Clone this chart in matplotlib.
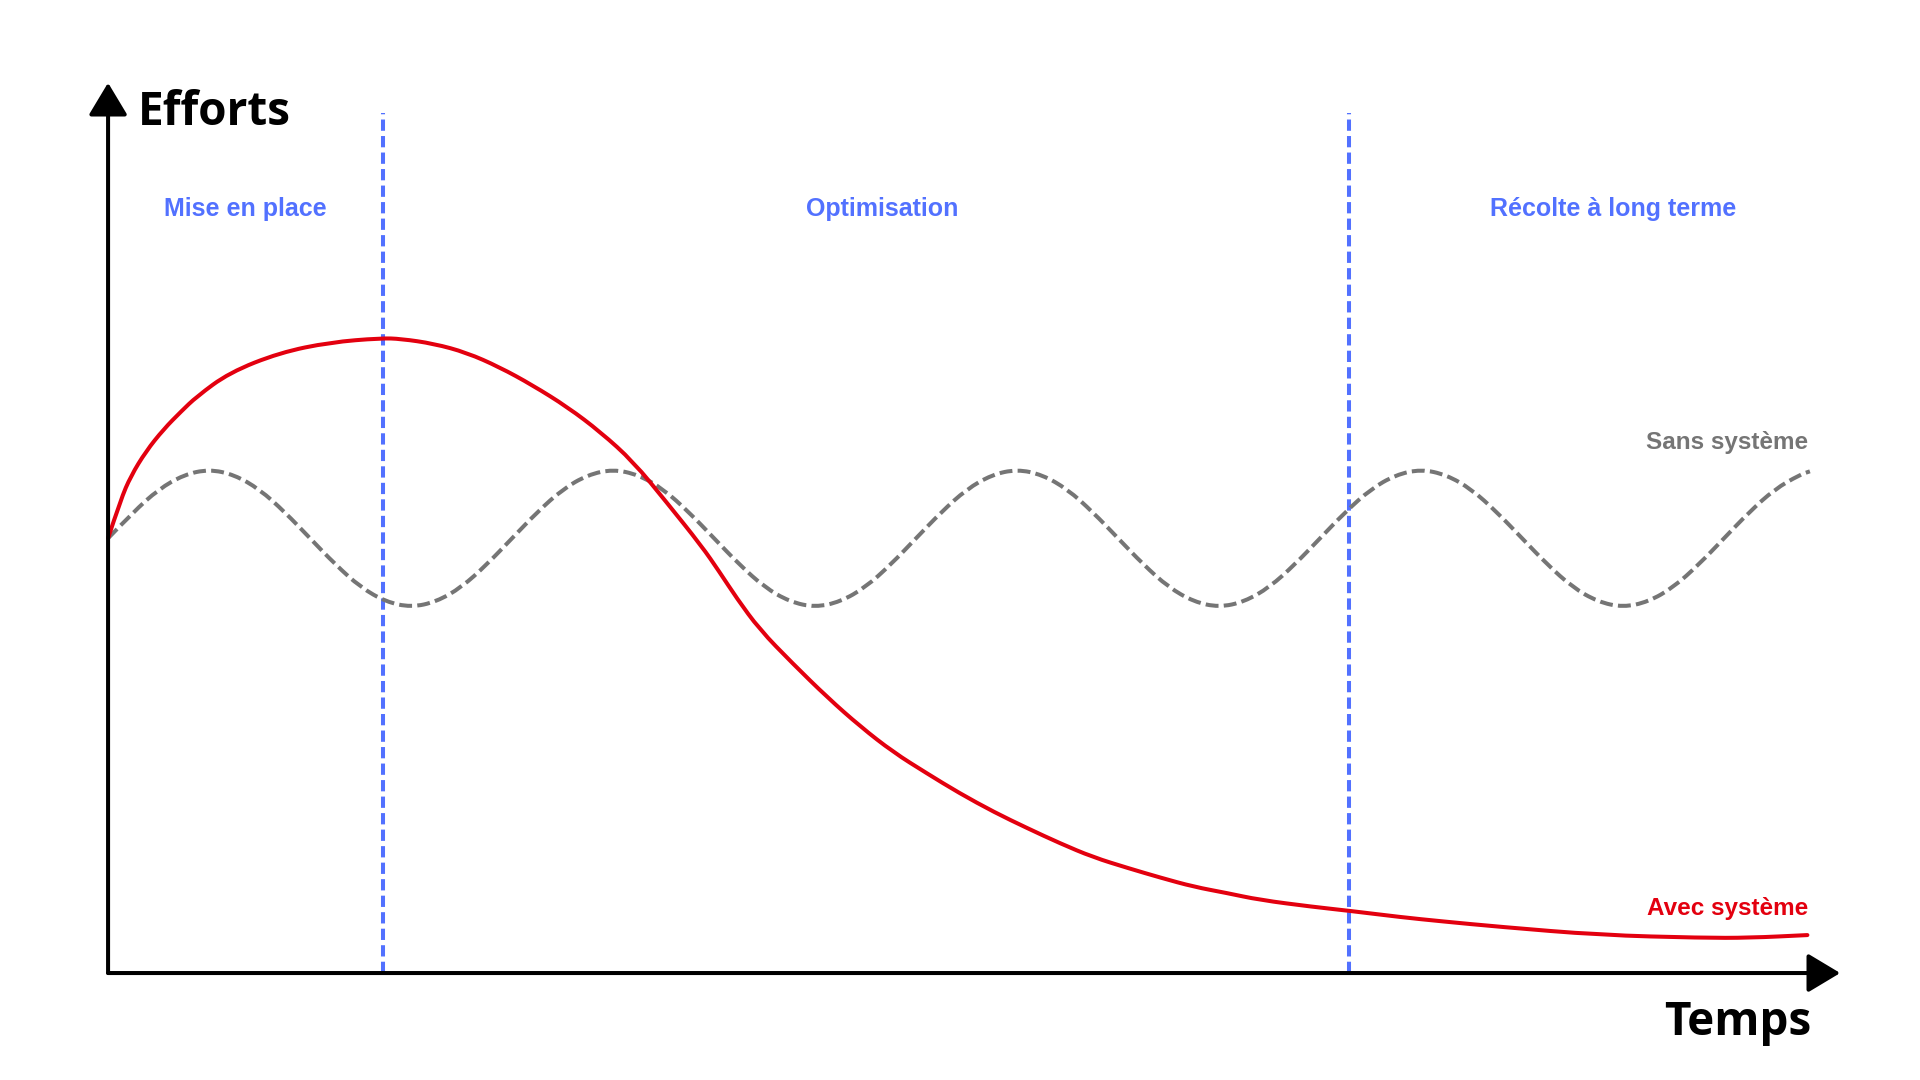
import matplotlib.pyplot as plt
from matplotlib.patches import FancyArrowPatch, PathPatch
from matplotlib.path import Path

# Axes units: time (arbitrary) and effort (arbitrary)
# Sans système: regular wave, one sample per time unit
sans_t = list(range(68)) + [67.4]
sans_e = [63, 66.8, 70.1, 72.2, 73, 72.2, 70.1, 66.8, 63, 59.2, 55.9, 53.8, 53, 53.8, 55.9, 59.2,
          63, 66.8, 70.1, 72.2, 73, 72.2, 70.1, 66.8, 63, 59.2, 55.9, 53.8, 53, 53.8, 55.9, 59.2,
          63, 66.8, 70.1, 72.2, 73, 72.2, 70.1, 66.8, 63, 59.2, 55.9, 53.8, 53, 53.8, 55.9, 59.2,
          63, 66.8, 70.1, 72.2, 73, 72.2, 70.1, 66.8, 63, 59.2, 55.9, 53.8, 53, 53.8, 55.9, 59.2,
          63, 66.8, 70.1, 72.2, 72.7]

# Avec système
avec_t = [0, 0.5, 0.9, 1.5, 2.2, 2.9, 3.5, 4.8, 6.8, 8.8, 10.8, 11.6, 12.9, 14.2, 15.5, 16.8,
          18.2, 19.5, 20.8, 22.1, 23.5, 24.2, 24.9, 25.8, 27.1, 28.5, 29.8, 31.1, 32.4, 33.7,
          35.1, 36.4, 37.7, 39.0, 40.4, 41.7, 43.0, 44.3, 45.6, 47.7, 49.2, 51.2, 52.8,
          55.1, 59.1, 63.1, 65.0, 67.3]
avec_e = [63, 68.6, 72.0, 75.6, 78.8, 81.4, 83.5, 87.0, 89.9, 91.4, 92.0, 91.9, 91.2, 89.9, 87.8, 85.2,
          82.0, 78.4, 74.1, 68.3, 61.9, 58.2, 54.3, 49.8, 44.9, 39.9, 35.7, 32.0, 29.0, 26.1,
          23.3, 21.0, 18.8, 16.8, 15.2, 13.8, 12.5, 11.6, 10.6, 9.6, 9.0, 8.1, 7.5,
          6.7, 5.5, 5.1, 5.1, 5.5]

phases = [49.15, 10.89]
phase_labels = ['Mise en place', 'Optimisation', 'Récolte à long terme']
phase_label_t = [5.43, 30.65, 59.6]

BLUE = '#5271FF'
RED = '#E3000F'
GREY = '#757575'


def smooth(xs, ys):
    # quadratic bezier through the midpoints, readings used as control points
    verts = [(xs[0], ys[0])]
    codes = [Path.MOVETO]
    for i in range(1, len(xs) - 1):
        verts += [(xs[i], ys[i]), ((xs[i] + xs[i + 1]) / 2, (ys[i] + ys[i + 1]) / 2)]
        codes += [Path.CURVE3, Path.CURVE3]
    verts.append((xs[-1], ys[-1]))
    codes.append(Path.LINETO)
    return Path(verts, codes)


fig = plt.figure(figsize=(19.2, 10.8), dpi=100)
ax = fig.add_axes([0, 0, 1, 1])
ax.set_xlim(-4.28, 71.76)
ax.set_ylim(-15.5, 141.0)
ax.axis('off')

# separations between phases
for t in phases:
    ax.plot([t, t], [0, 124.6], color=BLUE, lw=2.9, linestyle=(0, (2.8, 1.3)), zorder=2)

ax.add_patch(PathPatch(smooth(sans_t, sans_e), fill=False, edgecolor=GREY, lw=2.9,
                       linestyle=(0, (3.2, 1.3)), capstyle='butt', zorder=3))
ax.add_patch(PathPatch(smooth(avec_t, avec_e), fill=False, edgecolor=RED, lw=2.9,
                       capstyle='round', zorder=4))

# axes with arrow heads
for end in [(0, 129.0), (68.6, 0)]:
    arr = FancyArrowPatch((0, 0), end, arrowstyle='-|>,head_length=2.0,head_width=1.2',
                          mutation_scale=10, lw=2.9, color='black',
                          shrinkA=0, shrinkB=0, zorder=5)
    ax.add_patch(arr)

ax.text(1.19, 122.9, 'Efforts', family='Open Sans', weight='bold', fontsize=33,
        ha='left', va='baseline')
ax.text(67.45, -9.0, 'Temps', family='Open Sans', weight='bold', fontsize=33,
        ha='right', va='baseline')

for lab, t in zip(phase_labels, phase_label_t):
    ax.text(t, 109.7, lab, family='Liberation Sans', weight='bold', fontsize=18,
            color=BLUE, ha='center', va='baseline')

ax.text(67.33, 75.9, 'Sans système', family='Liberation Sans', weight='bold', fontsize=17.5,
        color=GREY, ha='right', va='baseline')
ax.text(67.33, 8.4, 'Avec système', family='Liberation Sans', weight='bold', fontsize=17.5,
        color=RED, ha='right', va='baseline')

fig.savefig('out.png', dpi=100, facecolor='white')
